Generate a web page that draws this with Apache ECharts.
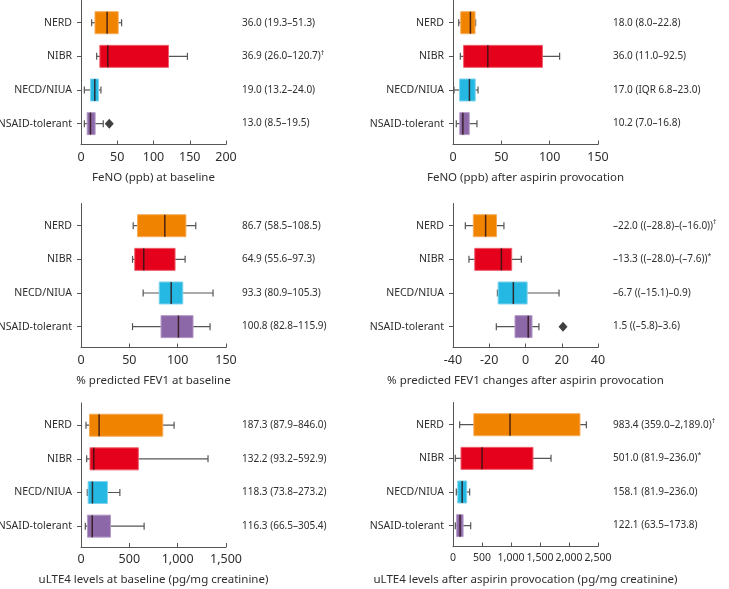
<!DOCTYPE html>
<html>
<head>
<meta charset="utf-8">
<script src="https://cdn.jsdelivr.net/npm/echarts@6/dist/echarts.min.js"></script>
<style>
  html, body { margin: 0; padding: 0; background: #fff; }
  #chart { width: 729px; height: 589px; }
</style>
</head>
<body>
<div id="chart"></div>
<script>
const groups = ['NERD', 'NIBR', 'NECD/NIUA', 'NSAID-tolerant'];

// each row: [whisker low, Q1, median, Q3, whisker high]
const fenoBase = [
  [14.7, 19.3, 36.0, 51.3, 56.0],
  [21.6, 26.0, 36.9, 120.7, 146.8],
  [4.6, 13.2, 19.0, 24.0, 27.5],
  [4.6, 8.5, 13.0, 19.5, 30.7]
];
const fenoBaseOutliers = [[39, 3]];
const fenoBaseText = ['36.0 (19.3–51.3)', '36.9 (26.0–120.7)†', '19.0 (13.2–24.0)', '13.0 (8.5–19.5)'];

const fenoAfter = [
  [5.9, 8.0, 18.0, 22.8, 23.4],
  [7.6, 11.0, 36.0, 92.5, 110.3],
  [1.0, 6.8, 17.0, 23.0, 25.9],
  [3.4, 7.0, 10.2, 16.8, 24.8]
];
const fenoAfterText = ['18.0 (8.0–22.8)', '36.0 (11.0–92.5)', '17.0 (IQR 6.8–23.0)', '10.2 (7.0–16.8)'];

const fevBase = [
  [54.0, 58.5, 86.7, 108.5, 118.7],
  [53.3, 55.6, 64.9, 97.3, 107.7],
  [64.3, 80.9, 93.3, 105.3, 136.6],
  [53.3, 82.8, 100.8, 115.9, 133.5]
];
const fevBaseText = ['86.7 (58.5–108.5)', '64.9 (55.6–97.3)', '93.3 (80.9–105.3)', '100.8 (82.8–115.9)'];

const fevChange = [
  [-33.2, -28.8, -22.0, -16.0, -11.9],
  [-31.2, -28.0, -13.3, -7.6, -2.3],
  [-15.5, -15.1, -6.7, 0.9, 18.5],
  [-16.1, -5.8, 1.5, 3.6, 7.4]
];
const fevChangeOutliers = [[20.7, 3]];
const fevChangeText = ['–22.0 ((–28.8)–(–16.0))†', '–13.3 ((–28.0)–(–7.6))*', '–6.7 ((–15.1)–0.9)', '1.5 ((–5.8)–3.6)'];

const lte4Base = [
  [51.6, 87.9, 187.3, 846.0, 963],
  [58.5, 93.2, 132.2, 592.9, 1314],
  [65, 73.8, 118.3, 273.2, 402],
  [44.7, 66.5, 116.3, 305.4, 653]
];
const lte4BaseText = ['187.3 (87.9–846.0)', '132.2 (93.2–592.9)', '118.3 (73.8–273.2)', '116.3 (66.5–305.4)'];

const lte4After = [
  [115, 359.0, 983.4, 2189.0, 2299],
  [40, 138, 501.0, 1379, 1690],
  [57, 81.9, 158.1, 236.0, 287],
  [40, 63.5, 122.1, 173.8, 305]
];
const lte4AfterText = ['983.4 (359.0–2,189.0)†', '501.0 (81.9–236.0)*', '158.1 (81.9–236.0)', '122.1 (63.5–173.8)'];

// [min, max, interval]
const fenoBaseTicks = [0, 200, 50];
const fenoAfterTicks = [0, 150, 50];
const fevBaseTicks = [0, 150, 50];
const fevChangeTicks = [-40, 40, 20];
const lte4BaseTicks = [0, 1500, 500];
const lte4AfterTicks = [0, 2500, 500];

const axisNames = [
  'FeNO (ppb) at baseline',
  'FeNO (ppb) after aspirin provocation',
  '% predicted FEV1 at baseline',
  '% predicted FEV1 changes after aspirin provocation',
  'uLTE4 levels at baseline (pg/mg creatinine)',
  'uLTE4 levels after aspirin provocation (pg/mg creatinine)'
];

const fills = ['#f08300', '#e5001b', '#25b8e2', '#8d68a9'];
const edges = ['#f6ab58', '#ee5d69', '#7dd3ed', '#b39bc6'];
const inkColor = '#2e2e2e';

const panels = [
  { values: fenoBase, text: fenoBaseText, ticks: fenoBaseTicks, out: fenoBaseOutliers, left: 81, top: 0.5, tickSize: 12.5 },
  { values: fenoAfter, text: fenoAfterText, ticks: fenoAfterTicks, out: [], left: 453, top: 0.5, tickSize: 12.5 },
  { values: fevBase, text: fevBaseText, ticks: fevBaseTicks, out: [], left: 81, top: 203.5, tickSize: 12.5 },
  { values: fevChange, text: fevChangeText, ticks: fevChangeTicks, out: fevChangeOutliers, left: 453, top: 203.5, tickSize: 12.5 },
  { values: lte4Base, text: lte4BaseText, ticks: lte4BaseTicks, out: [], left: 81, top: 403, tickSize: 12.5 },
  { values: lte4After, text: lte4AfterText, ticks: lte4AfterTicks, out: [], left: 453, top: 402.5, tickSize: 10.5 }
];

const catPos = [0, 1, 2, 3];

function renderBox(params, api) {
  const g = api.value(0);
  const pt = k => api.coord([api.value(k), g]);
  const lo = pt(1), q1 = pt(2), md = pt(3), q3 = pt(4), hi = pt(5);
  const y = lo[1];
  const half = 11, cap = 3.5;
  const line = (x1, y1, x2, y2, stroke, w) => ({
    type: 'line',
    shape: { x1, y1, x2, y2 },
    style: { stroke, lineWidth: w }
  });
  return {
    type: 'group',
    children: [
      line(lo[0], y, hi[0], y, '#555', 1.2),
      line(lo[0], y - cap, lo[0], y + cap, '#555', 1.2),
      line(hi[0], y - cap, hi[0], y + cap, '#555', 1.2),
      {
        type: 'rect',
        shape: { x: q1[0], y: y - half, width: q3[0] - q1[0], height: half * 2 },
        style: { fill: fills[g], stroke: edges[g], lineWidth: 1 }
      },
      line(md[0], y - half, md[0], y + half, 'rgba(45,20,20,0.85)', 1.5)
    ]
  };
}

const grid = [], xAxis = [], yAxis = [], series = [];

panels.forEach((p, i) => {
  grid.push({ left: p.left, top: p.top, width: 145, height: 144, outerBoundsMode: 'none', containLabel: false });
  xAxis.push({
    gridIndex: i,
    type: 'value',
    min: p.ticks[0],
    max: p.ticks[1],
    interval: p.ticks[2],
    splitLine: { show: false },
    axisLine: { show: true, onZero: false, lineStyle: { color: '#555', width: 1 } },
    axisTick: { show: true, inside: true, length: 4, lineStyle: { color: '#555' } },
    axisLabel: {
      color: inkColor,
      fontSize: p.tickSize,
      margin: 6,
      formatter: v => v.toLocaleString('en-US')
    },
    name: axisNames[i],
    nameLocation: 'middle',
    nameGap: 27,
    nameTextStyle: { color: inkColor, fontSize: 11.5 }
  });
  yAxis.push({
    gridIndex: i,
    type: 'value',
    inverse: true,
    min: -0.66,
    max: 3.62,
    splitLine: { show: false },
    axisLine: { show: true, onZero: false, lineStyle: { color: '#555', width: 1 } },
    axisTick: { show: true, length: 4, customValues: catPos, lineStyle: { color: '#555' } },
    axisLabel: {
      color: inkColor,
      fontSize: 10.5,
      margin: 9,
      customValues: catPos,
      formatter: v => groups[v]
    }
  });
  yAxis.push({
    gridIndex: i,
    type: 'value',
    position: 'right',
    inverse: true,
    min: -0.66,
    max: 3.62,
    splitLine: { show: false },
    axisLine: { show: false, onZero: false },
    axisTick: { show: false },
    axisLabel: {
      color: inkColor,
      fontSize: 10,
      margin: i % 2 ? 15 : 16,
      align: 'left',
      customValues: catPos,
      formatter: v => p.text[v].replace(/([†*])$/, '{sup|$1}'),
      rich: { sup: { fontSize: 7, padding: [0, 0, 7, 0], color: inkColor } }
    }
  });
  series.push({
    type: 'custom',
    xAxisIndex: i,
    yAxisIndex: i * 2,
    renderItem: renderBox,
    encode: { x: [1, 2, 3, 4, 5], y: 0 },
    data: p.values.map((v, g) => [g].concat(v)),
    silent: true,
    z: 2
  });
  if (p.out.length) {
    series.push({
      type: 'scatter',
      xAxisIndex: i,
      yAxisIndex: i * 2,
      symbol: 'diamond',
      symbolSize: [9, 10],
      itemStyle: { color: '#111' },
      data: p.out,
      silent: true,
      z: 3
    });
  }
});

const chart = echarts.init(document.getElementById('chart'));
chart.setOption({
  animation: false,
  backgroundColor: '#fff',
  textStyle: { fontFamily: '"Noto Sans", sans-serif' },
  grid, xAxis, yAxis, series
});
</script>
</body>
</html>
